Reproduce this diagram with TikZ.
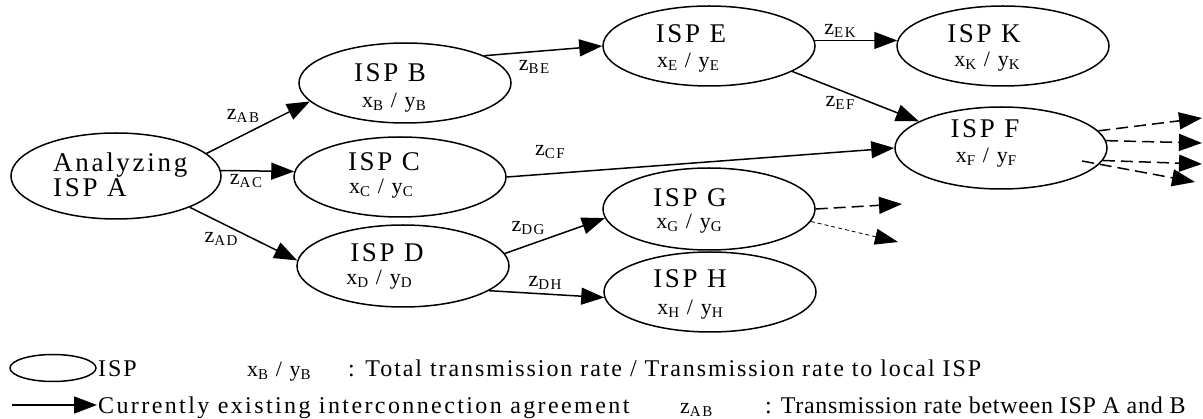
\documentclass[tikz,border=0pt]{standalone}
\usepackage{fontspec}
\setmainfont{Liberation Serif}
\newfontfamily\spaced{Liberation Serif}[LetterSpace=10]
\newfontfamily\lspaced{Liberation Serif}[LetterSpace=8]
\newfontfamily\lwide{Liberation Serif}[LetterSpace=10]
\newfontfamily\lnarrow{Liberation Serif}[LetterSpace=3]
\usetikzlibrary{arrows.meta,shapes.geometric}
\newcommand\nameF{\spaced\fontsize{27}{29}\selectfont}
\newcommand\varF{\spaced\fontsize{22}{24}\selectfont}
\newcommand\sbs[1]{\raisebox{-3pt}{\fontsize{15}{15}\selectfont #1}}
\newcommand\legF{\lspaced\fontsize{24}{26}\selectfont}
\begin{document}
\begin{tikzpicture}[x=1pt,y=-1pt,
 isp/.style={draw,ellipse,line width=1.5pt,minimum width=212pt,minimum height=80pt,inner sep=0pt},
 edge/.style={line width=1.5pt,-{Triangle[length=23pt,width=17pt]}},
 dashedge/.style={edge,dash pattern=on 12pt off 6pt},
 thindash/.style={line width=0.8pt,dash pattern=on 4pt off 3pt,-{Triangle[length=23pt,width=16pt]}},
 txt/.style={inner sep=0pt,anchor=base},
 ]
\useasboundingbox (0,0) rectangle (1203,419);
% ISP nodes
\node[isp,minimum width=210pt,minimum height=86pt] (A) at (116,176) {};
\node[isp] (B) at (405,83) {};
\node[isp] (C) at (400,177) {};
\node[isp,minimum height=82pt] (D) at (403,266) {};
\node[isp] (E) at (709,46) {};
\node[isp] (K) at (1003,46) {};
\node[isp,minimum height=82pt] (F) at (1001,148) {};
\node[isp,minimum height=82pt] (G) at (709,209) {};
\node[isp] (H) at (710,292) {};
% texts
\node[txt,anchor=base west] (tA1) at (53,172) {\nameF Analyzing};
\node[txt,anchor=base west] (tA2) at (53,197) {\nameF ISP A};
\node[txt] (tB1) at (390,82) {\nameF ISP B};
\node[txt] (tB2) at (394,108) {\varF x\sbs{B} / y\sbs{B}};
\node[txt] (tC1) at (384,171) {\nameF ISP C};
\node[txt] (tC2) at (381,194) {\varF x\sbs{C} / y\sbs{C}};
\node[txt] (tD1) at (387,262) {\nameF ISP D};
\node[txt] (tD2) at (379,285) {\varF x\sbs{D} / y\sbs{D}};
\node[txt] (tE1) at (691,43) {\nameF ISP E};
\node[txt] (tE2) at (688,68) {\varF x\sbs{E} / y\sbs{E}};
\node[txt] (tK1) at (984,43) {\nameF ISP K};
\node[txt] (tK2) at (987,67) {\varF x\sbs{K} / y\sbs{K}};
\node[txt] (tF1) at (985,138) {\nameF ISP F};
\node[txt] (tF2) at (986,163) {\varF x\sbs{F} / y\sbs{F}};
\node[txt] (tG1) at (690,207) {\nameF ISP G};
\node[txt] (tG2) at (689,229) {\varF x\sbs{G} / y\sbs{G}};
\node[txt] (tH1) at (690,288) {\nameF ISP H};
\node[txt] (tH2) at (690,315) {\varF x\sbs{H} / y\sbs{H}};
% edges
\draw[edge] (A.14.5) -- (B.191);
\draw[edge] (A.3) -- (C.177);
\draw[edge] (A.-23) -- (D.177);
\draw[edge] (B.19) -- (E.180);
\draw[edge] (E.3) -- (K.177);
\draw[edge] (E.-17) -- (F.162);
\draw[edge] (C.0) -- (F.180);
\draw[edge] (D.7) -- (G.185);
\draw[edge] (D.-16) -- (H.183);
% edge labels
\node[txt] (lAB) at (243,120) {\varF z\sbs{AB}};
\node[txt] (lAC) at (246,185) {\varF z\sbs{AC}};
\node[txt] (lAD) at (221,243) {\varF z\sbs{AD}};
\node[txt] (lBE) at (534,71) {\varF z\sbs{BE}};
\node[txt] (lEK) at (840,35) {\varF z\sbs{EK}};
\node[txt] (lEF) at (840,107) {\varF z\sbs{EF}};
\node[txt] (lCF) at (550,156) {\varF z\sbs{CF}};
\node[txt] (lDG) at (528,232) {\varF z\sbs{DG}};
\node[txt] (lDH) at (545,287) {\varF z\sbs{DH}};
% dashed outgoing
\coordinate (g1) at (902,204);
\coordinate (g2) at (898,242);
\coordinate (f1) at (1202,118);
\coordinate (f2) at (1202,143);
\coordinate (f3) at (1202,164);
\coordinate (f4) at (1195,182);
\draw[dashedge] (G.0) -- (g1);
\draw[thindash] (G.-7) -- (g2);
\draw[dashedge] (F.10) -- (f1);
\draw[dashedge] (F.4) -- (f2);
\draw[dashedge] (F.-7) -- (f3);
\draw[dashedge] ([shift={(81,13)}]F.center) -- (f4);
% legend
\node[isp,minimum width=86pt,minimum height=27pt] (L) at (53,368) {};
\node[txt,anchor=base west] (lISP) at (98,377) {\legF ISP};
\node[txt,anchor=base west] (lxy) at (247,377) {\varF x\sbs{B} / y\sbs{B}};
\node[txt,anchor=base west] (l1) at (348,377) {\legF : Total transmission rate / Transmission rate to local ISP};
\coordinate (la) at (12,405);
\coordinate (lb) at (97,405);
\draw[edge] (la) -- (lb);
\node[txt,anchor=base west] (l2) at (98,414) {\lwide\fontsize{24}{26}\selectfont Currently existing interconnection agreement};
\node[txt,anchor=base west] (lz) at (680,414) {\varF z\sbs{AB}};
\node[txt,anchor=base west] (l3) at (765,414) {\lnarrow\fontsize{24}{26}\selectfont : Transmission rate between ISP A and B};
\end{tikzpicture}
\end{document}
